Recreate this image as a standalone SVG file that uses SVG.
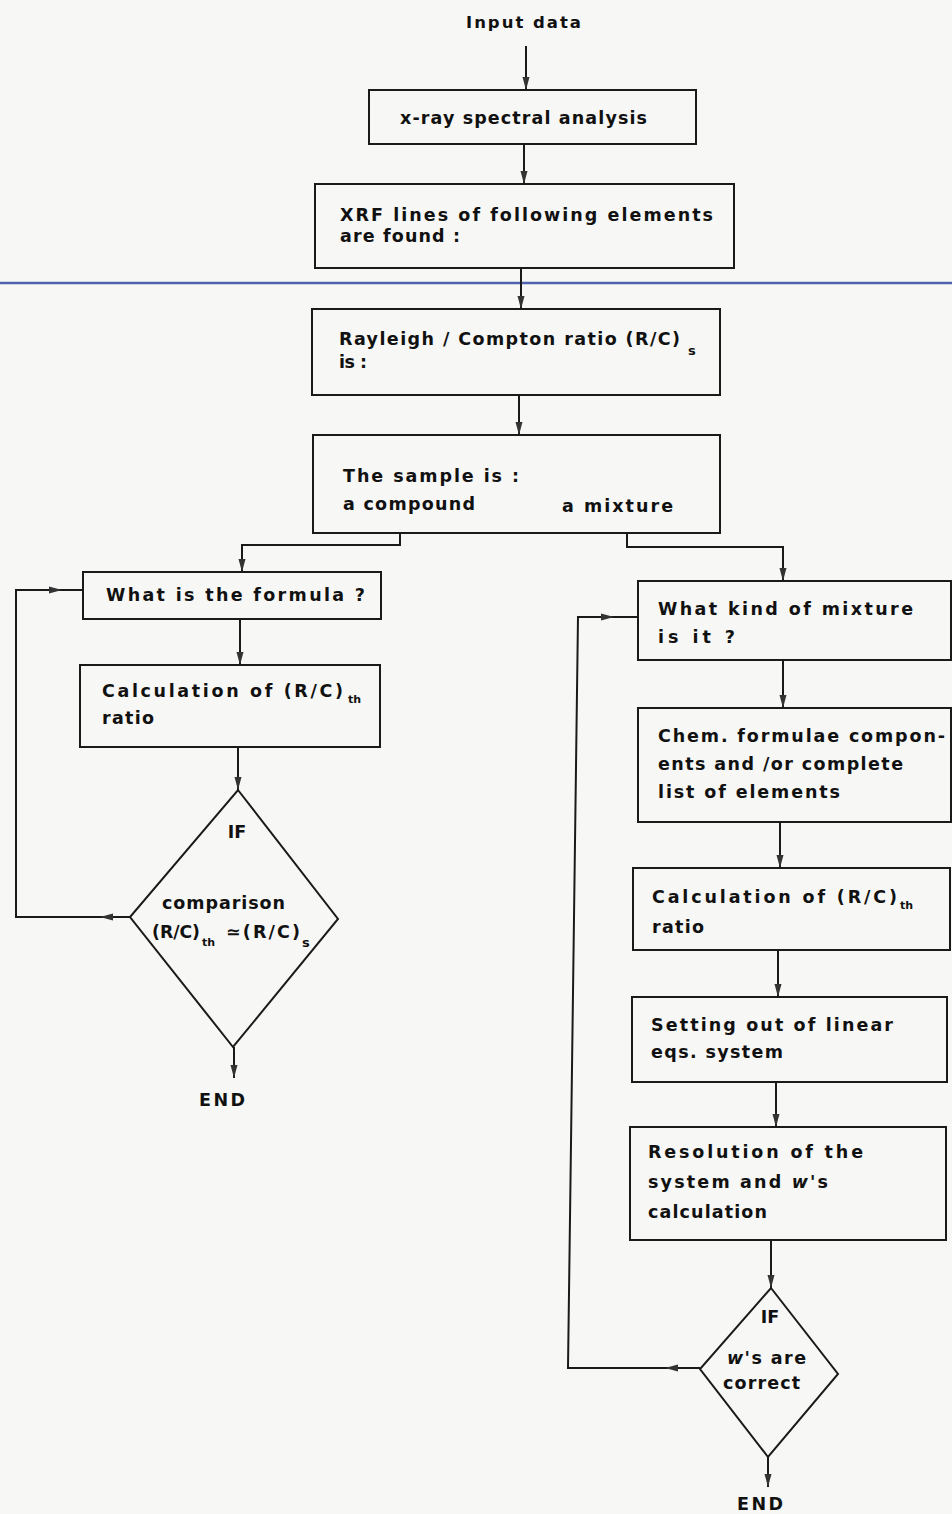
<svg xmlns="http://www.w3.org/2000/svg" width="952" height="1514" viewBox="0 0 952 1514">
<defs>
<marker id="ah" markerUnits="userSpaceOnUse" markerWidth="14" markerHeight="10" refX="13" refY="4" orient="auto">
<path d="M0,0.5 L13,4 L0,7.5 z" fill="#333"/>
</marker>
</defs>
<style>
.bx{fill:none;stroke:#1a1a1a;stroke-width:2}
.cn{fill:none;stroke:#1a1a1a;stroke-width:2}
.ar{marker-end:url(#ah)}
text{font-family:"DejaVu Sans","Liberation Sans",sans-serif;font-weight:700;font-size:17.5px;fill:#111;font-variant-ligatures:none}
.sub{font-size:11px}
.it{font-style:italic}
</style>
<rect width="952" height="1514" fill="#f7f7f5"/>
<line x1="0" y1="283" x2="952" y2="283" stroke="#4f63ad" stroke-width="2.5"/>

<g id="connectors">
<path class="cn ar" d="M526,46 L526,90"/>
<path class="cn ar" d="M524,144 L524,184"/>
<path class="cn ar" d="M521,268 L521,309"/>
<path class="cn ar" d="M519,395 L519,435"/>
<path class="cn ar" d="M400,533 L400,545 L242,545 L242,572"/>
<path class="cn ar" d="M627,533 L627,547 L783,547 L783,581"/>
<path class="cn ar" d="M240,619 L240,665"/>
<path class="cn ar" d="M238,747 L238,790"/>
<path class="cn ar" d="M234,1047 L234,1078"/>
<path class="cn ar" d="M130,917 L100,917"/>
<path class="cn ar" d="M100,917 L16,917 L16,590 L62,590"/>
<path class="cn" d="M62,590 L83,590"/>
<path class="cn ar" d="M783,660 L783,708"/>
<path class="cn ar" d="M780,822 L780,868"/>
<path class="cn ar" d="M778,950 L778,997"/>
<path class="cn ar" d="M776,1082 L776,1127"/>
<path class="cn ar" d="M771,1240 L771,1288"/>
<path class="cn ar" d="M768,1457 L768,1487"/>
<path class="cn ar" d="M700,1368 L665,1368"/>
<path class="cn ar" d="M665,1368 L568,1368 L578,617 L614,617"/>
<path class="cn" d="M614,617 L638,617"/>
</g>

<g id="input"><text x="466" y="28" textLength="115" lengthAdjust="spacing" style="font-size:16.5px">Input data</text></g>

<g id="xray">
<rect class="bx" x="369" y="90" width="327" height="54"/>
<text x="400" y="124" textLength="247" lengthAdjust="spacing">x-ray spectral analysis</text>
</g>

<g id="xrf">
<rect class="bx" x="315" y="184" width="419" height="84"/>
<text x="340" y="221" textLength="373" lengthAdjust="spacing">XRF lines of following elements</text>
<text x="340" y="242" textLength="120" lengthAdjust="spacing">are found :</text>
</g>

<g id="rayleigh">
<rect class="bx" x="312" y="309" width="408" height="86"/>
<text x="339" y="345" textLength="341" lengthAdjust="spacing">Rayleigh / Compton ratio (R/C)</text>
<text x="688" y="355" style="font-size:13px">s</text>
<text x="339" y="368" textLength="28" lengthAdjust="spacing">is :</text>
</g>

<g id="sample">
<rect class="bx" x="313" y="435" width="407" height="98"/>
<text x="343" y="482" textLength="176" lengthAdjust="spacing">The sample is :</text>
<text x="343" y="510" textLength="132" lengthAdjust="spacing">a compound</text>
<text x="562" y="512" textLength="111" lengthAdjust="spacing">a mixture</text>
</g>

<g id="formula">
<rect class="bx" x="83" y="572" width="298" height="47"/>
<text x="106" y="601" textLength="259" lengthAdjust="spacing">What is the formula ?</text>
</g>

<g id="calcL">
<rect class="bx" x="80" y="665" width="300" height="82"/>
<text x="102" y="697" textLength="241" lengthAdjust="spacing">Calculation of (R/C)</text>
<text x="348" y="703" class="sub">th</text>
<text x="102" y="724" textLength="52" lengthAdjust="spacing">ratio</text>
</g>

<g id="ifL">
<polygon class="bx" points="238,790 338,919 233,1047 130,917"/>
<text x="237" y="838" text-anchor="middle">IF</text>
<text x="162" y="909" textLength="123" lengthAdjust="spacing">comparison</text>
<text x="152" y="938" textLength="48" lengthAdjust="spacingAndGlyphs">(R/C)</text>
<text x="202" y="946" class="sub">th</text>
<text x="226" y="938" textLength="74" lengthAdjust="spacing">≃(R/C)</text>
<text x="302" y="947" style="font-size:13px">s</text>
</g>

<g id="endL"><text x="199" y="1106" textLength="46" lengthAdjust="spacing">END</text></g>

<g id="mixture">
<rect class="bx" x="638" y="581" width="313" height="79"/>
<text x="658" y="615" textLength="255" lengthAdjust="spacing">What kind of mixture</text>
<text x="658" y="643" textLength="77" lengthAdjust="spacing">is it ?</text>
</g>

<g id="chem">
<rect class="bx" x="638" y="708" width="313" height="114"/>
<text x="658" y="742" textLength="287" lengthAdjust="spacing">Chem. formulae compon-</text>
<text x="658" y="770" textLength="245" lengthAdjust="spacing">ents and /or complete</text>
<text x="658" y="798" textLength="182" lengthAdjust="spacing">list of elements</text>
</g>

<g id="calcR">
<rect class="bx" x="633" y="868" width="317" height="82"/>
<text x="652" y="903" textLength="245" lengthAdjust="spacing">Calculation of (R/C)</text>
<text x="900" y="909" class="sub">th</text>
<text x="652" y="933" textLength="52" lengthAdjust="spacing">ratio</text>
</g>

<g id="setting">
<rect class="bx" x="632" y="997" width="315" height="85"/>
<text x="651" y="1031" textLength="242" lengthAdjust="spacing">Setting out of linear</text>
<text x="651" y="1058" textLength="132" lengthAdjust="spacing">eqs. system</text>
</g>

<g id="resolution">
<rect class="bx" x="630" y="1127" width="316" height="113"/>
<text x="648" y="1158" textLength="215" lengthAdjust="spacing">Resolution of the</text>
<text x="648" y="1188" textLength="180" lengthAdjust="spacing">system and <tspan class="it">w</tspan>'s</text>
<text x="648" y="1218" textLength="119" lengthAdjust="spacing">calculation</text>
</g>

<g id="ifR">
<polygon class="bx" points="771,1288 838,1374 768,1457 700,1369"/>
<text x="770" y="1323" text-anchor="middle">IF</text>
<text x="727" y="1364" textLength="79" lengthAdjust="spacing"><tspan class="it">w</tspan>'s are</text>
<text x="723" y="1389" textLength="77" lengthAdjust="spacing">correct</text>
</g>

<g id="endR"><text x="737" y="1510" textLength="46" lengthAdjust="spacing">END</text></g>
</svg>
